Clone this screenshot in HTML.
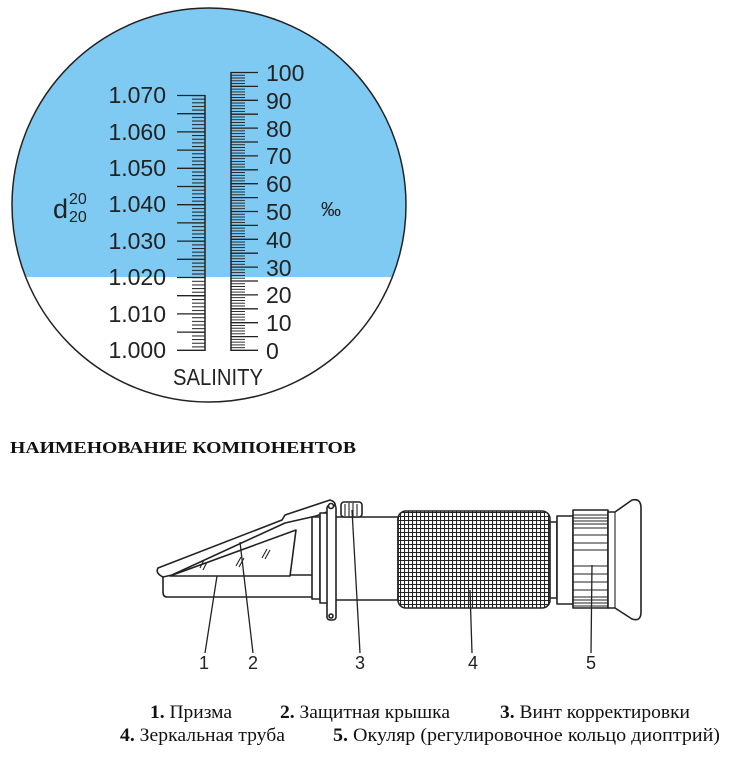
<!DOCTYPE html>
<html><head><meta charset="utf-8"><style>
html,body{margin:0;padding:0;background:#fff;}
svg{display:block;}
</style></head><body>
<svg width="730" height="760" viewBox="0 0 730 760" xmlns="http://www.w3.org/2000/svg">
<defs>
<clipPath id="c"><circle cx="209" cy="205" r="197"/></clipPath>
<pattern id="pl" x="0" y="95" width="20" height="3.643" patternUnits="userSpaceOnUse"><line x1="0" y1="0.5" x2="20" y2="0.5" stroke="#222" stroke-width="1"/></pattern>
<pattern id="pr" x="0" y="72" width="20" height="2.78" patternUnits="userSpaceOnUse"><line x1="0" y1="0.5" x2="20" y2="0.5" stroke="#222" stroke-width="0.9"/></pattern>
<pattern id="kn" x="0" y="0" width="4" height="4" patternUnits="userSpaceOnUse"><path d="M0 0.5H4M0.5 0V4" stroke="#222" stroke-width="1.1"/></pattern>
</defs>
<g clip-path="url(#c)">
<rect x="0" y="0" width="430" height="277" fill="#7fcaf2"/>
</g>
<circle cx="209" cy="205" r="197" fill="none" stroke="#222" stroke-width="1.5"/>
<rect x="192" y="95" width="13" height="256" fill="url(#pl)"/>
<line x1="205" y1="95" x2="205" y2="351" stroke="#222" stroke-width="1.5"/>
<g stroke="#222" stroke-width="1.3">
<line x1="177" y1="95.5" x2="205" y2="95.5"/><line x1="177" y1="113.7" x2="205" y2="113.7"/>
<line x1="177" y1="131.9" x2="205" y2="131.9"/><line x1="177" y1="150.1" x2="205" y2="150.1"/>
<line x1="177" y1="168.3" x2="205" y2="168.3"/><line x1="177" y1="186.5" x2="205" y2="186.5"/>
<line x1="177" y1="204.7" x2="205" y2="204.7"/><line x1="177" y1="222.9" x2="205" y2="222.9"/>
<line x1="177" y1="241.1" x2="205" y2="241.1"/><line x1="177" y1="259.3" x2="205" y2="259.3"/>
<line x1="177" y1="277.5" x2="205" y2="277.5"/><line x1="177" y1="295.7" x2="205" y2="295.7"/>
<line x1="177" y1="313.9" x2="205" y2="313.9"/><line x1="177" y1="332.1" x2="205" y2="332.1"/>
<line x1="177" y1="350.3" x2="205" y2="350.3"/>
</g>
<g font-family="Liberation Sans, sans-serif" font-size="23" fill="#222" text-anchor="end">
<text x="166" y="103">1.070</text><text x="166" y="140">1.060</text><text x="166" y="176">1.050</text>
<text x="166" y="212">1.040</text><text x="166" y="249">1.030</text><text x="166" y="285">1.020</text>
<text x="166" y="322">1.010</text><text x="166" y="358">1.000</text>
</g>
<rect x="231" y="72" width="14" height="279" fill="url(#pr)"/>
<line x1="231" y1="72" x2="231" y2="351" stroke="#222" stroke-width="1.5"/>
<g stroke="#222" stroke-width="1.3">
<line x1="231" y1="72.5" x2="258" y2="72.5"/><line x1="231" y1="86.4" x2="258" y2="86.4"/>
<line x1="231" y1="100.3" x2="258" y2="100.3"/><line x1="231" y1="114.2" x2="258" y2="114.2"/>
<line x1="231" y1="128.1" x2="258" y2="128.1"/><line x1="231" y1="142" x2="258" y2="142"/>
<line x1="231" y1="155.9" x2="258" y2="155.9"/><line x1="231" y1="169.8" x2="258" y2="169.8"/>
<line x1="231" y1="183.7" x2="258" y2="183.7"/><line x1="231" y1="197.6" x2="258" y2="197.6"/>
<line x1="231" y1="211.5" x2="258" y2="211.5"/><line x1="231" y1="225.4" x2="258" y2="225.4"/>
<line x1="231" y1="239.3" x2="258" y2="239.3"/><line x1="231" y1="253.2" x2="258" y2="253.2"/>
<line x1="231" y1="267.1" x2="258" y2="267.1"/><line x1="231" y1="281" x2="258" y2="281"/>
<line x1="231" y1="294.9" x2="258" y2="294.9"/><line x1="231" y1="308.8" x2="258" y2="308.8"/>
<line x1="231" y1="322.7" x2="258" y2="322.7"/><line x1="231" y1="336.6" x2="258" y2="336.6"/>
<line x1="231" y1="350.3" x2="258" y2="350.3"/>
</g>
<g font-family="Liberation Sans, sans-serif" font-size="23" fill="#222">
<text x="266" y="81">100</text><text x="266" y="109">90</text><text x="266" y="137">80</text>
<text x="266" y="164">70</text><text x="266" y="192">60</text><text x="266" y="220">50</text>
<text x="266" y="248">40</text><text x="266" y="276">30</text><text x="266" y="303">20</text>
<text x="266" y="331">10</text><text x="266" y="359">0</text>
<text x="321" y="216" font-size="20">‰</text>
<text x="53" y="218" font-size="27">d</text>
<text x="69" y="204" font-size="16">20</text>
<text x="69" y="222" font-size="16">20</text>
<text x="173" y="385" font-size="23" textLength="90" lengthAdjust="spacingAndGlyphs">SALINITY</text>
</g>
<text x="10" y="453" font-family="Liberation Serif, serif" font-weight="bold" font-size="17" fill="#111" textLength="346" lengthAdjust="spacingAndGlyphs">НАИМЕНОВАНИЕ КОМПОНЕНТОВ</text>
<g stroke="#222" stroke-width="1.6" fill="#fff" stroke-linejoin="round">
<path d="M163 575 L312 575 L316 597 L167 597 Q163 597 163 592 Z"/>
<path d="M170 576 L290 576 L296 530 Z" fill="#fff"/>
<path d="M158 568 L282 520 L285 515 L330 500 Q337 502 335 509 L316 516 L285 523 L172 575 L163 577 Q155 573 158 568 Z"/>
<rect x="312" y="517" width="8" height="82"/>
<rect x="320" y="513" width="12" height="90"/>
<rect x="332" y="517" width="66" height="83"/>
<rect x="327" y="505" width="9" height="115" rx="3"/>
<circle cx="331" cy="616" r="2"/>
<circle cx="331" cy="506" r="2.5"/>
<rect x="341" y="502" width="21" height="15" rx="3"/>
<rect x="398" y="511" width="152" height="97" rx="8" fill="url(#kn)"/>
<rect x="550" y="522" width="7" height="76"/>
<rect x="557" y="516" width="16" height="88"/>
<rect x="573" y="510" width="35" height="98"/>
<path d="M608 512 L615 512 L632 500 Q641 498 641 508 L641 612 Q641 622 632 619 L615 608 L608 608 Z"/>
</g>
<g stroke="#222" stroke-width="1.1">
<path d="M573 515H608M573 518H608M573 521H608M573 524H608M573 528H608M573 535H608M573 543H608M573 550H608M573 566H608M573 574H608M573 582H608M573 590H608M573 597H608M573 600H608M573 603H608M573 606H608"/>
<path d="M615 512V608"/>
<path d="M345 504V516M349 503V517M353 503V517M357 504V516"/>
<path d="M200 568l4 -8M203 570l4 -8M236 566l5 -9M239 567l5 -9M262 558l5 -9M265 559l5 -9"/>
</g>
<g stroke="#222" stroke-width="1.3">
<line x1="217" y1="576" x2="205" y2="653"/>
<line x1="240" y1="542" x2="253" y2="653"/>
<line x1="352" y1="510" x2="360" y2="653"/>
<line x1="470" y1="590" x2="472" y2="653"/>
<line x1="592" y1="565" x2="591" y2="653"/>
</g>
<g font-family="Liberation Sans, sans-serif" font-size="18" fill="#222" text-anchor="middle">
<text x="204" y="669">1</text><text x="253" y="669">2</text><text x="360" y="669">3</text>
<text x="473" y="669">4</text><text x="591" y="669">5</text>
</g>
<g font-family="Liberation Serif, serif" font-size="19" fill="#111">
<text x="150" y="718" textLength="82" lengthAdjust="spacingAndGlyphs"><tspan font-weight="bold">1.</tspan> Призма</text>
<text x="280" y="718" textLength="170" lengthAdjust="spacingAndGlyphs"><tspan font-weight="bold">2.</tspan> Защитная крышка</text>
<text x="500" y="718" textLength="190" lengthAdjust="spacingAndGlyphs"><tspan font-weight="bold">3.</tspan> Винт корректировки</text>
<text x="120" y="741" textLength="165" lengthAdjust="spacingAndGlyphs"><tspan font-weight="bold">4.</tspan> Зеркальная труба</text>
<text x="333" y="741" textLength="387" lengthAdjust="spacingAndGlyphs"><tspan font-weight="bold">5.</tspan> Окуляр (регулировочное кольцо диоптрий)</text>
</g>
</svg>
</body></html>
